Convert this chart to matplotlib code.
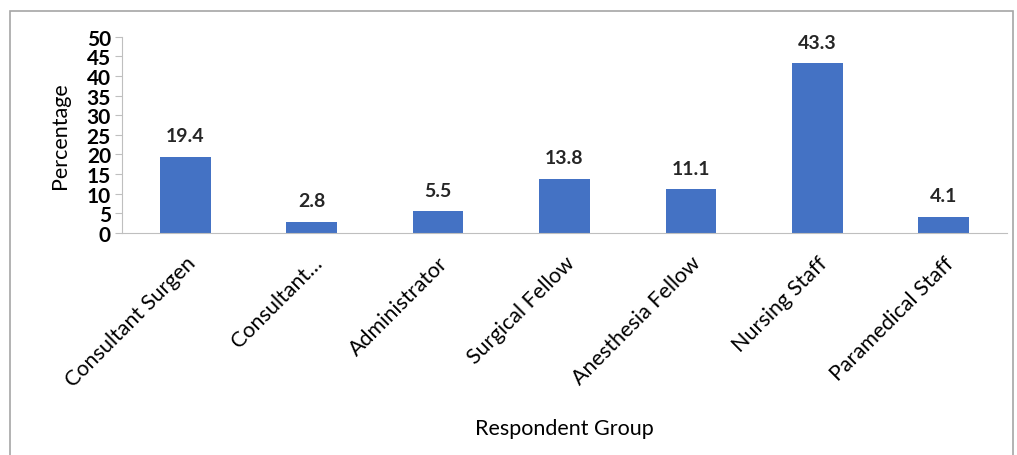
import matplotlib.pyplot as plt
from matplotlib.patches import Rectangle

groups = ["Consultant Surgen", "Consultant\u2026", "Administrator", "Surgical Fellow",
          "Anesthesia Fellow", "Nursing Staff", "Paramedical Staff"]
percent = [19.4, 2.8, 5.5, 13.8, 11.1, 43.3, 4.1]

plt.rcParams['font.family'] = ['Lato', 'DejaVu Sans']

fig = plt.figure(figsize=(10.17, 4.56), dpi=100)
fig.patches.append(Rectangle((10 / 1017, -0.1), 1003 / 1017, 1.1 - 12 / 456,
                             transform=fig.transFigure, fill=False,
                             edgecolor="#a6a6a6", linewidth=1.2))
ax = fig.add_axes([0.12, 0.487, 0.87, 0.43])

x = range(len(groups))
bars = ax.bar(x, percent, width=0.4, color="#4472C4")
for b, v in zip(bars, percent):
    ax.text(b.get_x() + b.get_width() / 2, v + 3.2, f"{v}", ha="center", va="bottom",
            fontsize=14, fontweight="bold", color="#262626")

ax.set_xlim(-0.5, len(groups) - 0.5)
ax.set_ylim(0, 50)
ax.set_yticks(range(0, 51, 5))
ax.set_yticklabels([str(t) for t in range(0, 51, 5)], fontsize=15, fontweight="bold")
ax.set_xticks(list(x))
ax.set_xticklabels(groups, rotation=45, ha="right", rotation_mode="anchor", fontsize=15.5)

for s in ["top", "right"]:
    ax.spines[s].set_visible(False)
ax.spines["left"].set_color("#bfbfbf")
ax.spines["bottom"].set_color("#bfbfbf")
ax.tick_params(axis="y", color="#bfbfbf", length=5, pad=3)
ax.tick_params(axis="x", length=0, pad=14)

ax.set_ylabel("Percentage", fontsize=15.5, labelpad=12)
ax.set_xlabel("Respondent Group", fontsize=15.5, labelpad=20)

fig.savefig("out.png", dpi=100)
